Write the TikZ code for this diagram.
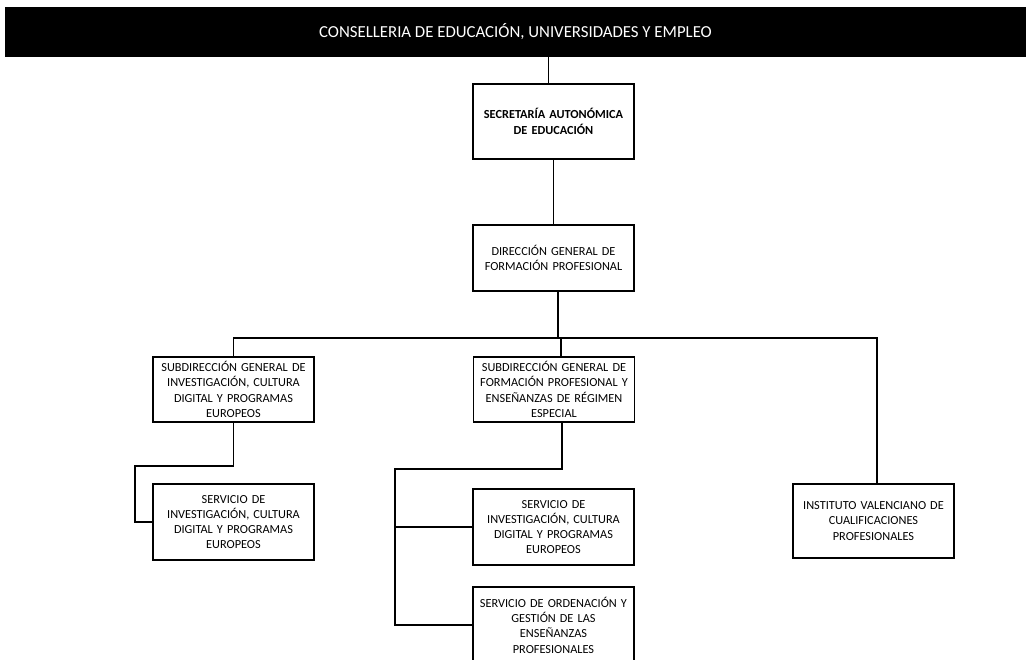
\documentclass[tikz,border=0pt]{standalone}
\usepackage{fontspec}
\setmainfont{Carlito}
\tikzset{
  unit/.style={draw, line width=1.2pt, text width=155pt, inner xsep=3pt, inner ysep=2pt,
    align=center, font=\fontsize{12.3}{15.3}\selectfont},
  headunit/.style={unit, line width=2.2pt, font=\bfseries\fontsize{12.3}{16}\selectfont},
  link/.style={line width=1.2pt}
}
\begin{document}
\begin{tikzpicture}[x=1pt,y=-1pt]
\useasboundingbox (0,0) rectangle (1026,659);
\clip (0,0) rectangle (1026,659);
% top bar
\node[fill=black, text=white, minimum width=1021pt, minimum height=50pt, inner sep=0pt,
  font=\fontsize{16.8}{18}\selectfont] (bar) at (515.5,32) {CONSELLERIA DE EDUCACIÓN, UNIVERSIDADES Y EMPLEO};
% boxes
\node[headunit, minimum height=75pt] (sec) at (553.5,121.5) {SECRETARÍA AUTONÓMICA\\DE EDUCACIÓN};
\node[unit, minimum height=66pt] (dir) at (553.5,258) {DIRECCIÓN GENERAL DE\\FORMACIÓN PROFESIONAL};
\node[unit, minimum height=65pt] (subA) at (233.5,389.5) {SUBDIRECCIÓN GENERAL DE\\INVESTIGACIÓN, CULTURA\\DIGITAL Y PROGRAMAS\\EUROPEOS};
\node[unit, minimum height=65pt] (subB) at (554,389.5) {SUBDIRECCIÓN GENERAL DE\\FORMACIÓN PROFESIONAL Y\\ENSEÑANZAS DE RÉGIMEN\\ESPECIAL};
\node[unit, minimum height=76pt] (servA) at (233.5,522) {SERVICIO DE\\INVESTIGACIÓN, CULTURA\\DIGITAL Y PROGRAMAS\\EUROPEOS};
\node[unit, minimum height=76pt] (servB) at (553.5,527) {SERVICIO DE\\INVESTIGACIÓN, CULTURA\\DIGITAL Y PROGRAMAS\\EUROPEOS};
\node[unit, minimum height=76pt] (servC) at (553.5,625) {SERVICIO DE ORDENACIÓN Y\\GESTIÓN DE LAS\\ENSEÑANZAS\\PROFESIONALES};
\node[unit, minimum height=74pt] (inst) at (873.5,521) {INSTITUTO VALENCIANO DE\\CUALIFICACIONES\\PROFESIONALES};
% elbows
\coordinate (bus) at (558,338);
\coordinate (elbA) at (135,466);
\coordinate (elbB) at (395,469);
% connectors
\draw[line width=0.8pt] ([xshift=-5pt]bar.south -| sec.north) -- ([xshift=-5pt]sec.north);
\draw[link] (sec.south) -- (dir.north);
\draw[line width=2pt] ([xshift=4.5pt]dir.south) -- (bus);
\draw[link] (subA.north) |- (bus) -| ([xshift=3.5pt]inst.north);
\draw[link] (bus) -| ([xshift=7pt]subB.north);
\draw[link] (subA.south) |- (elbA) |- (servA.west);
\draw[link] ([xshift=8pt]subB.south) |- (elbB) |- (servC.west);
\draw[link] (elbB |- servB.west) -- (servB.west);
\end{tikzpicture}
\end{document}
